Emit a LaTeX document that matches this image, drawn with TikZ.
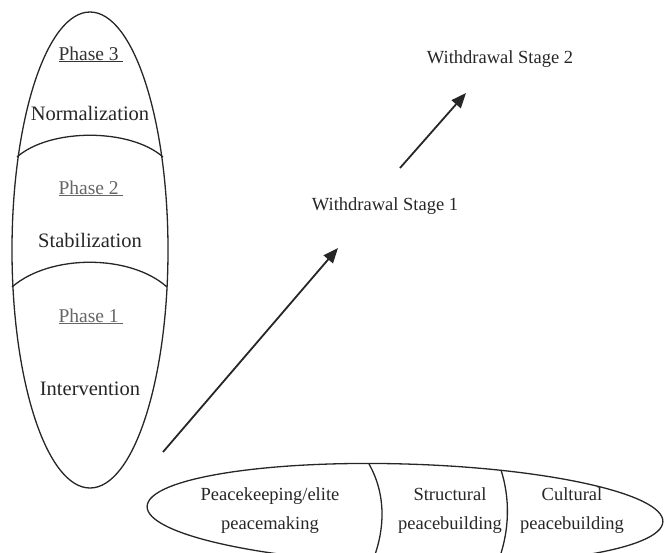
\documentclass[tikz,border=0pt]{standalone}
\usepackage{fontspec}
\setmainfont{Liberation Serif}
\usetikzlibrary{arrows.meta,shapes.geometric}

\begin{document}
\begin{tikzpicture}[x=1pt, y=-1pt,
        phase/.style = {anchor=base, font=\fontsize{19.5}{23}\selectfont},
        stage/.style = {anchor=base, font=\fontsize{20.5}{24}\selectfont, text=black!85},
        withdraw/.style = {anchor=base, font=\fontsize{18.5}{22}\selectfont, text=black!85},
        track/.style = {align=center, font=\fontsize{18.5}{29}\selectfont, text=black!85},
        rim/.style = {draw=black!85, line width=1.3pt},
        move/.style = {draw=black!85, line width=1.8pt, -{Triangle[length=15pt, width=12pt]}}]
        \clip (0,0) rectangle (666,552);
        % phases (left egg)
        \node[rim, ellipse, minimum width=156pt, minimum height=476pt, inner sep=0pt] (phases) at (90,250) {};
        \draw[rim] (17,157) .. controls (50,128) and (130,128) .. (163,157);
        \draw[rim] (12,287) .. controls (50,254) and (130,254) .. (167,287);
        \node[phase, text=black!80] (p3) at (91,60) {\underline{Phase 3\ }};
        \node[stage] (norm) at (90,120.5) {Normalization};
        \node[phase, text=black!60] (p2) at (91,194) {\underline{Phase 2\ }};
        \node[stage] (stab) at (90,247) {Stabilization};
        \node[phase, text=black!60] (p1) at (91,322) {\underline{Phase 1\ }};
        \node[stage] (interv) at (90,395) {Intervention};
        % peace tracks (bottom)
        \node[rim, ellipse, minimum width=516pt, minimum height=100pt, inner sep=0pt, rotate=-1.7] (tracks) at (405,514) {};
        \draw[rim] (369,464) .. controls (386,494) and (386,530) .. (371,565);
        \draw[rim] (501,470) .. controls (510,498) and (510,530) .. (498,562);
        \node[track] (elite) at (270,511) {Peacekeeping/elite\\peacemaking};
        \node[track] (struct) at (450,511) {Structural\\peacebuilding};
        \node[track] (cult) at (572,511) {Cultural\\peacebuilding};
        % withdrawal
        \node[withdraw] (w2) at (500,63) {Withdrawal Stage 2};
        \node[withdraw] (w1) at (385,210) {Withdrawal Stage 1};
        \coordinate (a1s) at (163,452);
        \coordinate (a1e) at (338,248);
        \coordinate (a2s) at (400,168);
        \coordinate (a2e) at (466,93);
        \draw[move] (a1s) -- (a1e);
        \draw[move] (a2s) -- (a2e);
    \end{tikzpicture}
\end{document}
